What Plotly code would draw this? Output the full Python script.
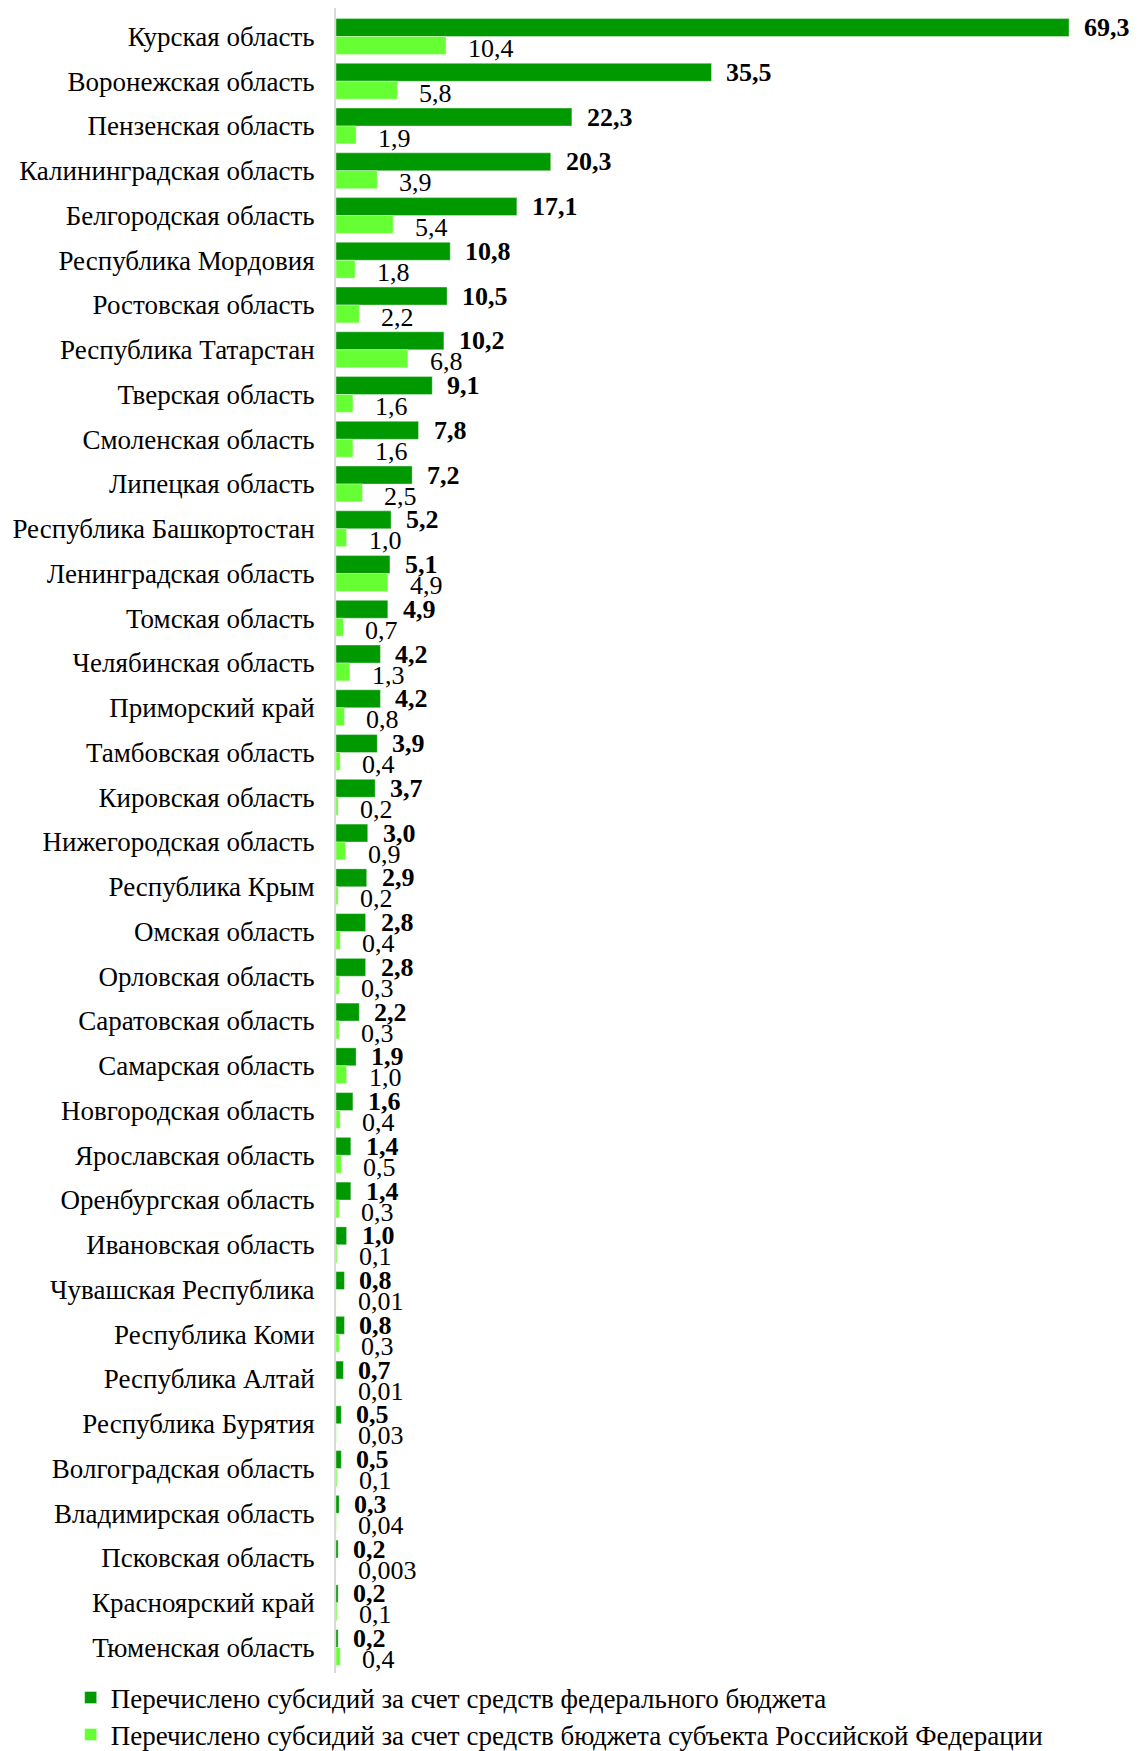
import plotly.graph_objects as go

regions = [
    "Курская область", "Воронежская область", "Пензенская область",
    "Калининградская область", "Белгородская область", "Республика Мордовия",
    "Ростовская область", "Республика Татарстан", "Тверская область",
    "Смоленская область", "Липецкая область", "Республика Башкортостан",
    "Ленинградская область", "Томская область", "Челябинская область",
    "Приморский край", "Тамбовская область", "Кировская область",
    "Нижегородская область", "Республика Крым", "Омская область",
    "Орловская область", "Саратовская область", "Самарская область",
    "Новгородская область", "Ярославская область", "Оренбургская область",
    "Ивановская область", "Чувашская Республика", "Республика Коми",
    "Республика Алтай", "Республика Бурятия", "Волгоградская область",
    "Владимирская область", "Псковская область", "Красноярский край",
    "Тюменская область",
]
federal = [69.3, 35.5, 22.3, 20.3, 17.1, 10.8, 10.5, 10.2, 9.1, 7.8, 7.2, 5.2,
           5.1, 4.9, 4.2, 4.2, 3.9, 3.7, 3.0, 2.9, 2.8, 2.8, 2.2, 1.9, 1.6, 1.4,
           1.4, 1.0, 0.8, 0.8, 0.7, 0.5, 0.5, 0.3, 0.2, 0.2, 0.2]
regional = [10.4, 5.8, 1.9, 3.9, 5.4, 1.8, 2.2, 6.8, 1.6, 1.6, 2.5, 1.0,
            4.9, 0.7, 1.3, 0.8, 0.4, 0.2, 0.9, 0.2, 0.4, 0.3, 0.3, 1.0, 0.4, 0.5,
            0.3, 0.1, 0.01, 0.3, 0.01, 0.03, 0.1, 0.04, 0.003, 0.1, 0.4]

name_fed = "Перечислено субсидий за счет средств федерального бюджета"
name_reg = "Перечислено субсидий за счет средств бюджета субъекта Российской Федерации"

def fmt(v):
    s = f"{v:.1f}" if v >= 0.1 else f"{v:g}"
    return s.replace(".", ",")

FONT = "Liberation Serif"
DARK = "#009900"
LIGHT = "#66FF33"

fig = go.Figure()
fig.add_trace(go.Bar(y=regions, x=federal, orientation="h", name=name_fed,
                     marker=dict(color=DARK, line=dict(width=0.8, color="rgba(255,255,255,0.45)")),
                     legend="legend", showlegend=True))
fig.add_trace(go.Bar(y=regions, x=regional, orientation="h", name=name_reg,
                     marker=dict(color=LIGHT, line=dict(width=0.8, color="rgba(255,255,255,0.45)")),
                     legend="legend2", showlegend=True))

for r, f, g in zip(regions, federal, regional):
    fig.add_annotation(x=f, y=r, text=f"<b>{fmt(f)}</b>", showarrow=False,
                       xanchor="left", yanchor="middle", xshift=13, yshift=9,
                       font=dict(family=FONT, size=26, color="black"))
    fig.add_annotation(x=g, y=r, text=fmt(g), showarrow=False,
                       xanchor="left", yanchor="middle", xshift=20, yshift=-12,
                       font=dict(family=FONT, size=26, color="black"))

legend_common = dict(orientation="v", xanchor="left", yanchor="middle",
                     font=dict(family=FONT, size=27, color="black"),
                     itemwidth=30, bgcolor="rgba(0,0,0,0)", visible=True)

# page body has an 8px default margin: figure is sized/offset to compensate
fig.update_layout(
    width=1130, height=1743,
    margin=dict(l=328, r=69, t=0, b=78, autoexpand=False),
    showlegend=True,
    barmode="group", bargap=0.2, bargroupgap=0,
    plot_bgcolor="white", paper_bgcolor="white",
    font=dict(family=FONT, size=27, color="black"),
    legend=dict(x=-0.362, y=-0.0150, **legend_common),
    legend2=dict(x=-0.362, y=-0.0372, **legend_common),
)
fig.update_xaxes(range=[0, 69.3], visible=False, showgrid=False, zeroline=False)
fig.update_yaxes(autorange="reversed", showline=True, linecolor="#d9d9d9",
                 linewidth=2, ticks="", ticklabelstandoff=14, automargin=False,
                 tickfont=dict(family=FONT, size=27, color="black"))

fig.write_html("out.html")
